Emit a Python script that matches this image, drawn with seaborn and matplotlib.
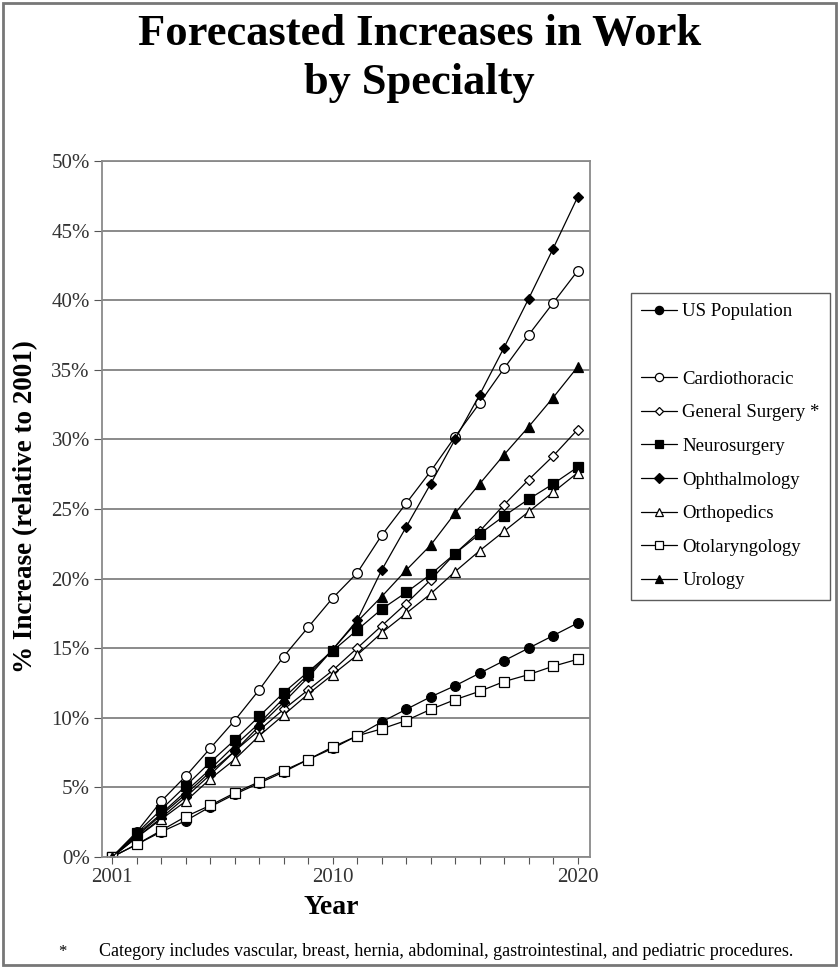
import numpy as np
import pandas as pd
import matplotlib
matplotlib.use("Agg")
import matplotlib.pyplot as plt
from matplotlib.lines import Line2D
from matplotlib.patches import Rectangle
from matplotlib.ticker import FixedLocator, FuncFormatter
import seaborn as sns

# years of the forecast
years = list(range(2001, 2021))

# % increase relative to 2001
us_population = [0, 0.9, 1.8, 2.6, 3.6, 4.5, 5.3, 6.1, 7.0, 7.8,
                 8.7, 9.7, 10.6, 11.5, 12.3, 13.2, 14.1, 15.0, 15.9, 16.8]
cardiothoracic = [0, 1.8, 4.0, 5.8, 7.8, 9.8, 12.0, 14.4, 16.5, 18.6,
                  20.4, 23.1, 25.4, 27.7, 30.2, 32.6, 35.1, 37.5, 39.8, 42.1]
general_surgery = [0, 1.5, 3.0, 4.5, 6.1, 7.6, 9.1, 10.6, 12.0, 13.4,
                   15.0, 16.6, 18.2, 19.9, 21.8, 23.4, 25.3, 27.1, 28.8, 30.7]
neurosurgery = [0, 1.7, 3.4, 5.1, 6.8, 8.4, 10.1, 11.8, 13.3, 14.8,
                16.3, 17.8, 19.0, 20.3, 21.8, 23.2, 24.5, 25.7, 26.8, 28.0]
ophthalmology = [0, 1.4, 2.8, 4.3, 5.9, 7.6, 9.4, 11.1, 12.9, 14.9,
                 17.0, 20.6, 23.7, 26.8, 30.0, 33.2, 36.6, 40.1, 43.7, 47.4]
orthopedics = [0, 1.4, 2.7, 4.0, 5.6, 7.0, 8.7, 10.2, 11.7, 13.1,
               14.5, 16.1, 17.5, 18.9, 20.5, 22.0, 23.4, 24.8, 26.2, 27.6]
otolaryngology = [0, 0.9, 1.9, 2.9, 3.7, 4.6, 5.4, 6.2, 7.0, 7.9,
                  8.7, 9.2, 9.8, 10.6, 11.3, 11.9, 12.6, 13.1, 13.7, 14.2]
urology = [0, 1.6, 3.1, 4.7, 6.3, 8.0, 9.6, 11.4, 13.1, 14.9,
           16.9, 18.7, 20.6, 22.4, 24.7, 26.8, 28.9, 30.9, 33.0, 35.2]

series_names = ["US Population", "Cardiothoracic", "General Surgery *", "Neurosurgery",
                "Ophthalmology", "Orthopedics", "Otolaryngology", "Urology"]
series_values = [us_population, cardiothoracic, general_surgery, neurosurgery,
                 ophthalmology, orthopedics, otolaryngology, urology]
# marker, filled?, size
styles = [("o", True, 7), ("o", False, 7), ("D", False, 5), ("s", True, 6.5),
          ("D", True, 5.5), ("^", False, 7), ("s", False, 7), ("^", True, 7)]

x_ticks = [2001, 2010, 2020]
y_ticks = [0, 5, 10, 15, 20, 25, 30, 35, 40, 45, 50]

sns.set_theme(style="white")
serif = ["Liberation Serif", "DejaVu Serif"]
plt.rcParams["font.family"] = serif
plt.rcParams["text.color"] = "black"

fig = plt.figure(figsize=(8.39, 9.67), dpi=100)
ax = fig.add_axes([0.122, 0.1138, 0.581, 0.7197])

for name, vals, (mk, filled, ms) in zip(series_names, series_values, styles):
    sns.lineplot(x=years, y=vals, ax=ax, color="black", linewidth=0.9,
                 marker=mk, markersize=ms, markeredgecolor="black",
                 markerfacecolor="black" if filled else "white",
                 markeredgewidth=0.9, label=name, legend=False)

ax.set_xlim(2000.6, 2020.5)
ax.set_ylim(0, 50)
ax.xaxis.set_major_locator(FixedLocator(x_ticks))
ax.xaxis.set_minor_locator(FixedLocator(years))
ax.yaxis.set_major_locator(FixedLocator(y_ticks))
ax.yaxis.set_major_formatter(FuncFormatter(lambda v, p: f"{v:.0f}%"))
ax.tick_params(axis="x", which="both", direction="out", length=5, width=0.8,
               color="#555555", bottom=True, labelsize=15, pad=3)
ax.tick_params(axis="y", which="major", direction="out", length=6, width=0.8,
               color="#555555", left=True, labelsize=15, pad=3)
for lbl in ax.get_xticklabels() + ax.get_yticklabels():
    lbl.set_color("#333333")

ax.grid(axis="y", color="#8a8a8a", linewidth=1.4)
ax.set_axisbelow(True)
for sp in ax.spines.values():
    sp.set_color("#8a8a8a")
    sp.set_linewidth(1.3)

ax.set_xlabel("")
ax.set_ylabel("")
fig.text(0.395, 0.062, "Year", fontsize=20, fontweight="bold", ha="center", va="center")
fig.text(0.030, 0.476, "% Increase (relative to 2001)", fontsize=19.5, fontweight="bold",
         rotation=90, ha="center", va="center")

fig.text(0.5, 0.986, "Forecasted Increases in Work\nby Specialty", ha="center", va="top",
         fontsize=32, fontweight="bold", linespacing=1.3)

# legend with an empty row after US Population
handles, labels = ax.get_legend_handles_labels()
blank = Line2D([], [], linestyle="none", marker=None)
handles = handles[:1] + [blank] + handles[1:]
labels = labels[:1] + [" "] + labels[1:]
leg = fig.legend(handles, labels, loc="upper left", bbox_to_anchor=(0.752, 0.697),
                 frameon=True, fancybox=False, edgecolor="#333333", fontsize=13.5,
                 handlelength=1.9, handletextpad=0.3, labelspacing=0.88,
                 borderpad=0.55, borderaxespad=0, markerscale=0.85)
leg.get_frame().set_linewidth(1.0)

fig.text(0.074, 0.016, "*", fontsize=12, ha="center", va="center")
fig.text(0.118, 0.016, "Category includes vascular, breast, hernia, abdominal, gastrointestinal, "
         "and pediatric procedures.", fontsize=13, ha="left", va="center")

fig.patches.append(Rectangle((0.003, 0.002), 0.994, 0.995, transform=fig.transFigure,
                             fill=False, edgecolor="#777777", linewidth=2))

fig.savefig("out.png", dpi=100)
